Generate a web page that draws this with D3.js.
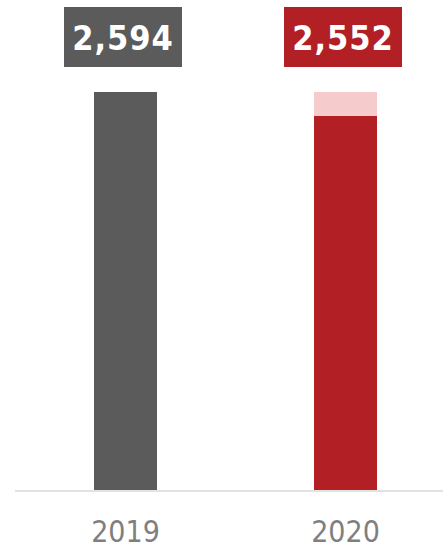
<!DOCTYPE html>
<html>
<head>
<meta charset="utf-8">
<script src="https://cdn.jsdelivr.net/npm/d3@7"></script>
<style>
  html, body { margin: 0; padding: 0; background: #fff; }
  svg { display: block; }
</style>
</head>
<body>
<svg id="chart"></svg>
<script>
// chart data
const categories = ['2019', '2020'];
const totals = [2594, 2552];          // values printed in the label boxes
const solidValues = [2594, 2438];     // main bar segment
const lightValues = [0, 156];         // pale segment stacked on top
const barColors = ['#5b5b5b', '#b21f24'];
const lightColor = '#f5cbcc';

const width = 443, height = 549;
const baseY = 490, topY = 92;
const barWidth = 63;

const svg = d3.select('#chart')
    .attr('width', width)
    .attr('height', height);

// scales
const xScale = d3.scaleBand()
    .domain(categories)
    .range([15.5, 455.5]);

const yScale = d3.scaleLinear()
    .domain([0, d3.max(solidValues.map((v, i) => v + lightValues[i]))])
    .range([baseY, topY]);

const barX = c => xScale(c) + (xScale.bandwidth() - barWidth) / 2;
const center = c => xScale(c) + xScale.bandwidth() / 2;

// baseline
svg.append('line')
    .attr('x1', 15).attr('x2', width)
    .attr('y1', baseY + 1).attr('y2', baseY + 1)
    .attr('stroke', '#d9d9d9')
    .attr('stroke-width', 1.5);

// solid segments
svg.selectAll('.bar')
    .data(categories)
  .join('rect')
    .attr('class', 'bar')
    .attr('x', c => barX(c))
    .attr('y', (c, i) => yScale(solidValues[i]))
    .attr('width', barWidth)
    .attr('height', (c, i) => baseY - yScale(solidValues[i]))
    .attr('fill', (c, i) => barColors[i]);

// light segments on top
svg.selectAll('.bar-light')
    .data(categories)
  .join('rect')
    .attr('class', 'bar-light')
    .attr('x', c => barX(c))
    .attr('y', (c, i) => yScale(solidValues[i] + lightValues[i]))
    .attr('width', barWidth)
    .attr('height', (c, i) => yScale(solidValues[i]) - yScale(solidValues[i] + lightValues[i]))
    .attr('fill', lightColor);

// value label boxes
const fmt = d3.format(',');
const labels = svg.selectAll('.value-label')
    .data(categories)
  .join('g')
    .attr('class', 'value-label')
    .attr('transform', c => `translate(${center(c) - 2.5},37)`);

labels.append('rect')
    .attr('x', -59).attr('y', -30)
    .attr('width', 118).attr('height', 60)
    .attr('fill', (c, i) => barColors[i]);

labels.append('text')
    .attr('text-anchor', 'middle')
    .attr('y', 12.5)
    .attr('fill', '#fff')
    .style('font-family', '"DejaVu Sans Condensed", "DejaVu Sans", sans-serif')
    .style('font-weight', 'bold')
    .style('font-size', '34px')
    .style('letter-spacing', '1px')
    .text((c, i) => fmt(totals[i]));

// category labels
svg.selectAll('.cat-label')
    .data(categories)
  .join('text')
    .attr('class', 'cat-label')
    .attr('x', c => center(c))
    .attr('y', 542)
    .attr('text-anchor', 'middle')
    .attr('fill', '#7f7f7f')
    .style('font-family', '"DejaVu Sans Condensed", "DejaVu Sans", sans-serif')
    .style('font-size', '30px')
    .text(c => c);
</script>
</body>
</html>
